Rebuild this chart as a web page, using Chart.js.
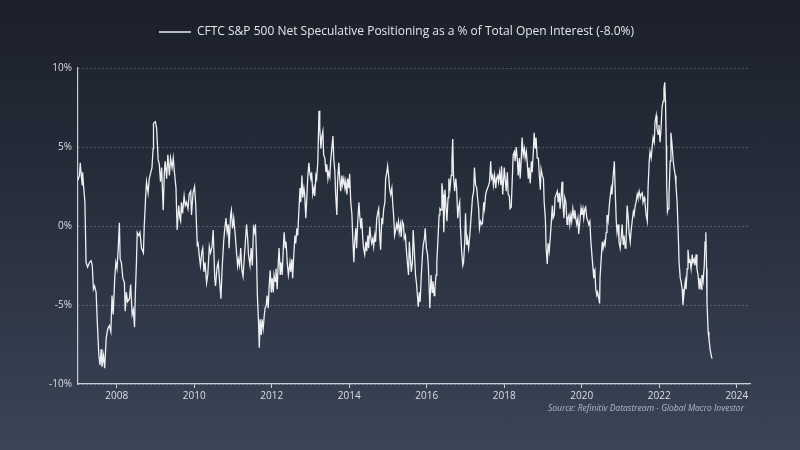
<!DOCTYPE html>
<html>
<head>
<meta charset="utf-8">
<script src="https://cdn.jsdelivr.net/npm/chart.js@4.4.0/dist/chart.umd.min.js"></script>
<style>
  html, body { margin: 0; padding: 0; }
  #wrap {
    position: relative;
    width: 800px; height: 450px;
    background: linear-gradient(to bottom, #1b202a 0%, #272e3c 45%, #3b4557 100%);
  }
  #source {
    position: absolute; right: 56px; top: 402px;
    font: italic 8.5px "Open Sans", sans-serif;
    color: #b4b9c4;
  }
</style>
</head>
<body>
<div id="wrap">
  <canvas id="chart" width="800" height="450"></canvas>
  <div id="source">Source: Refinitiv Datastream - Global Macro Investor</div>
</div>
<script>
// weekly-ish readings, decimal year
let dates = [
  2007.00,2007.04,2007.06,2007.09,2007.11,2007.12,2007.15,2007.18,2007.21,2007.25,2007.30,2007.34,2007.37,2007.40,2007.43,2007.47,2007.50,2007.54,2007.57,2007.60,
  2007.62,2007.66,2007.69,2007.73,2007.77,2007.81,2007.85,2007.88,2007.91,2007.95,2007.98,2008.01,2008.04,2008.07,2008.09,2008.12,2008.16,2008.20,2008.22,2008.25,
  2008.28,2008.33,2008.36,2008.40,2008.43,2008.46,2008.48,2008.51,2008.53,2008.57,2008.60,2008.64,2008.69,2008.71,2008.75,2008.77,2008.81,2008.84,2008.88,2008.91,
  2008.94,2008.95,2009.00,2009.03,2009.07,2009.10,2009.13,2009.16,2009.20,2009.23,2009.25,2009.29,2009.32,2009.36,2009.39,2009.43,2009.46,2009.49,2009.53,2009.56,
  2009.60,2009.63,
  2009.65,2009.67,2009.70,2009.74,2009.77,2009.80,2009.84,2009.87,2009.91,2009.93,2009.97,2010.01,2010.04,2010.08,2010.10,2010.14,2010.16,2010.20,2010.22,2010.25,
  2010.28,2010.32,2010.35,2010.39,2010.42,2010.46,2010.49,2010.53,2010.55,2010.59,2010.62,2010.65,2010.69,2010.72,2010.76,2010.78,2010.82,2010.85,2010.88,2010.90,
  2010.94,2010.96,2010.99,2011.02,2011.06,2011.09,2011.12,2011.14,2011.17,2011.20,2011.23,2011.26,2011.29,2011.32,2011.35,2011.38,2011.40,2011.44,2011.47,2011.50,
  2011.53,2011.56,2011.58,2011.61,2011.63,2011.66,2011.68,2011.70,2011.73,2011.75,2011.78,2011.81,2011.83,2011.86,2011.88,2011.91,2011.93,2011.96,2011.99,2012.01,
  2012.04,2012.06,2012.09,2012.11,2012.14,2012.17,2012.19,2012.22,2012.24,2012.27,2012.30,2012.32,2012.35,2012.37,2012.40,2012.43,
  2012.47,2012.49,2012.52,2012.54,2012.57,2012.60,2012.62,2012.65,2012.67,2012.70,2012.73,2012.75,2012.78,2012.80,2012.83,2012.85,2012.88,2012.91,2012.93,2012.96,
  2012.98,2013.01,2013.03,2013.06,2013.09,2013.11,2013.14,2013.16,2013.19,2013.22,2013.24,2013.27,2013.29,2013.32,2013.34,2013.37,2013.40,2013.42,2013.45,2013.47,
  2013.50,2013.52,2013.55,2013.58,2013.60,2013.63,2013.65,2013.68,2013.70,2013.73,2013.76,2013.78,2013.81,2013.83,2013.86,2013.89,2013.91,2013.94,2013.96,2013.99,
  2014.01,2014.04,2014.07,2014.09,2014.12,2014.14,2014.17,2014.19,2014.22,2014.25,2014.27,2014.30,2014.32,2014.35,2014.37,2014.40,2014.43,2014.45,2014.48,2014.50,
  2014.53,2014.55,2014.58,2014.61,2014.63,2014.66,2014.68,2014.71,2014.74,2014.76,2014.79,2014.81,2014.84,2014.86,2014.89,2014.92,2014.94,2014.97,2014.99,2015.02,
  2015.04,2015.07,2015.10,2015.12,2015.15,2015.17,2015.20,
  2015.22,2015.24,2015.27,2015.29,2015.32,2015.34,2015.37,2015.40,2015.42,2015.45,2015.47,2015.50,2015.53,2015.55,2015.58,2015.60,2015.63,2015.65,2015.68,2015.71,
  2015.73,2015.76,2015.78,2015.81,2015.83,2015.86,2015.89,2015.91,2015.94,2015.96,2015.99,2016.02,2016.04,2016.07,2016.08,2016.11,2016.14,2016.16,2016.19,2016.21,
  2016.24,2016.26,2016.29,2016.32,2016.34,2016.37,2016.39,2016.42,2016.44,2016.47,2016.50,2016.52,2016.55,2016.57,2016.60,2016.63,2016.65,2016.67,2016.69,2016.72,
  2016.75,2016.77,2016.80,2016.82,2016.85,2016.87,2016.90,2016.93,2016.95,2016.98,2017.00,2017.03,2017.05,2017.08,2017.11,2017.13,2017.16,2017.18,2017.21,2017.23,
  2017.26,2017.29,2017.31,2017.34,2017.36,2017.39,2017.42,2017.44,2017.47,2017.49,2017.52,2017.54,2017.57,2017.60,2017.62,2017.65,2017.67,2017.70,2017.72,2017.75,
  2017.78,2017.80,2017.83,2017.85,2017.88,2017.91,2017.93,2017.96,2017.98,
  2018.00,2018.03,2018.05,2018.08,2018.10,2018.13,2018.15,2018.18,2018.21,2018.23,2018.26,2018.28,2018.31,2018.34,2018.36,2018.39,2018.41,2018.44,2018.46,2018.49,
  2018.52,2018.54,2018.57,2018.59,2018.62,2018.64,2018.67,2018.70,2018.72,2018.75,2018.77,2018.80,2018.82,2018.85,2018.88,2018.90,2018.93,2018.95,2018.98,2019.01,
  2019.03,2019.06,2019.08,2019.11,2019.13,2019.16,2019.19,2019.21,2019.24,2019.26,2019.29,2019.31,2019.34,2019.37,2019.39,2019.42,2019.44,2019.47,2019.49,2019.51,
  2019.54,2019.56,2019.59,2019.62,2019.64,2019.67,2019.69,2019.72,2019.74,2019.77,2019.80,2019.82,2019.85,2019.87,2019.90,2019.92,2019.95,2019.98,2020.00,2020.03,
  2020.05,2020.08,2020.10,2020.13,2020.16,2020.18,2020.21,2020.23,2020.26,2020.29,2020.31,2020.34,2020.36,2020.39,2020.41,2020.44,2020.46,2020.47,2020.50,2020.53,
  2020.55,2020.58,2020.60,2020.63,2020.65,2020.68,2020.71,2020.73,2020.76,2020.78,
  2020.81,2020.84,2020.86,2020.89,2020.91,2020.94,2020.96,2020.99,2021.02,2021.04,2021.07,2021.09,2021.12,2021.14,2021.17,2021.20,2021.22,2021.25,2021.27,2021.30,
  2021.33,2021.35,2021.38,2021.40,2021.43,2021.45,2021.48,2021.51,2021.53,2021.56,2021.58,2021.61,2021.63,2021.66,2021.69,2021.71,2021.74,2021.76,2021.79,2021.82,
  2021.84,2021.87,2021.89,2021.92,2021.94,2021.97,2021.99,2022.02,2022.05,2022.07,2022.10,2022.12,2022.14,2022.16,2022.18,2022.19,2022.21,2022.23,2022.25,2022.28,
  2022.30,2022.33,2022.36,2022.38,2022.41,2022.43,2022.46,2022.49,2022.51,2022.54,2022.56,2022.59,2022.61,2022.64,2022.67,2022.69,2022.72,2022.74,2022.77,2022.79,
  2022.82,2022.85,2022.87,2022.90,2022.92,2022.95,2022.97,2023.00,2023.03,2023.05,2023.08,2023.10,2023.13,2023.16,2023.18,2023.20,2023.22,2023.23,2023.26,2023.28,
  2023.31,2023.34,2023.36
];

// net speculative positioning, % of open interest
let values = [
  2.9,3.2,4.0,3.1,2.6,3.4,2.4,1.5,-2.3,-2.6,-2.3,-2.2,-2.5,-4.0,-3.8,-4.2,-6.1,-8.2,-8.8,-7.8,
  -8.9,-8.2,-9.0,-7.1,-6.5,-6.3,-6.7,-4.4,-5.6,-3.3,-2.3,-2.7,-1.4,0.2,-2.1,-2.3,-3.3,-3.6,-5.4,-4.2,
  -4.8,-4.6,-3.7,-5.6,-5.3,-6.4,-4.4,-2.3,-0.4,-0.6,-0.4,-1.4,-1.7,-0.1,2.0,2.8,2.1,3.0,3.4,3.7,
  4.9,6.5,6.6,6.2,4.2,3.9,2.8,3.7,1.0,3.4,4.1,3.0,4.5,3.2,4.3,3.7,4.3,3.4,2.4,-0.25,
  1.3,0.5,
  0.3,1.5,0.8,1.9,1.3,1.5,1.1,2.0,2.2,0.7,2.1,2.5,1.3,-1.2,-1.1,-2.1,-2.5,-1.6,-1.4,-2.9,
  -2.3,-3.6,-3.1,-1.3,-1.7,-1.3,-0.25,-3.3,-3.8,-2.6,-2.3,-3.3,-4.6,-2.7,-1.0,-0.4,0.5,-0.4,0.1,-1.4,
  0.7,1.0,-0.15,0.5,-0.6,-1.6,-2.5,-2.1,-2.5,-1.4,-2.8,-3.2,-2.1,-1.0,0.1,-0.8,-1.8,-2.5,-1.4,-2.5,
  -0.1,-0.4,0.1,-2.1,-4.4,-6.1,-7.7,-5.9,-6.9,-5.9,-6.5,-5.6,-5.2,-5.0,-4.4,-5.2,-4.0,-2.8,-4.2,-3.3,
  -4.2,-3.1,-3.5,-2.7,-4.0,-2.3,-1.4,-3.1,-2.3,-3.1,-1.4,-0.4,-1.4,-1.0,-2.3,-3.1,
  -2.3,-2.9,-2.1,-3.3,-1.8,-0.6,-1.1,-0.15,-0.6,0.9,2.4,1.5,3.2,1.8,2.4,2.0,0.5,2.0,3.1,4.0,
  3.4,3.0,3.4,2.0,2.4,1.9,3.2,3.0,4.1,7.3,6.2,4.9,5.6,6.0,4.5,4.3,3.4,3.9,3.0,3.4,
  3.1,4.1,4.9,5.7,4.3,3.4,2.0,0.7,2.8,4.0,2.8,2.2,3.2,2.6,3.0,2.4,2.8,2.0,3.0,2.4,
  3.3,1.5,0.7,-0.7,-2.3,-1.0,-0.15,-1.4,0.3,1.5,0.7,-0.15,0.5,-0.8,-1.4,-1.8,-1.0,-1.6,-0.6,-1.4,
  -0.05,-0.6,-1.1,-0.8,-1.3,-0.6,-1.0,0.5,0.9,1.1,-0.8,-1.5,0.5,0.1,1.1,1.5,3.0,3.4,3.8,3.1,
  2.4,2.0,2.4,1.5,0.5,-0.6,-0.25,
  0.1,-0.15,0.3,-0.4,0.1,-0.7,0.3,0.1,-0.8,-0.6,-1.4,-2.3,-3.1,-1.0,-2.1,-2.9,-2.3,-0.25,-1.6,-3.1,
  -3.5,-4.4,-5.1,-4.2,-4.8,-3.1,-1.8,-1.2,-0.8,-0.15,-1.4,-1.8,-2.5,-4.4,-5.2,-3.1,-4.2,-3.5,-4.4,-4.0,
  -3.1,-2.3,-0.8,0.7,1.1,1.0,2.7,2.0,-0.4,2.3,1.1,0.3,1.8,3.0,2.4,3.2,4.1,5.5,3.2,2.2,
  3.0,2.4,0.5,1.1,1.5,-0.15,-1.6,-2.5,-2.3,-1.0,0.8,-1.2,-0.8,-1.4,-0.6,0.1,1.1,1.8,2.2,3.7,
  2.6,2.4,1.8,1.1,-0.15,0.3,0.1,0.2,1.5,1.1,2.0,2.2,2.4,2.6,2.8,4.1,3.0,3.2,2.6,3.2,
  2.4,3.0,3.2,2.8,3.4,2.6,3.8,2.0,2.8,
  3.7,2.8,2.2,3.4,2.0,1.9,1.1,1.2,3.2,4.5,4.7,4.1,5.0,4.1,3.2,4.3,3.0,4.3,5.6,4.5,
  4.9,4.3,4.7,4.1,3.0,3.7,2.7,4.1,3.4,4.7,5.9,4.9,5.6,4.3,4.3,3.4,2.3,3.6,3.2,3.0,
  1.5,0.5,-1.4,-2.4,-1.1,-1.6,-0.6,0.1,1.3,0.5,0.7,1.8,2.0,2.2,1.5,2.1,1.1,2.0,2.8,1.5,
  0.5,1.8,1.5,0.1,0.5,0.7,0.1,0.7,0.3,1.1,0.5,1.0,0.4,0.1,0.5,-0.5,0.3,1.1,0.7,1.1,
  0.5,1.1,1.2,0.5,0.3,0.1,0.3,-0.8,-1.8,-2.7,-3.3,-2.9,-4.0,-4.4,-4.2,-4.6,-4.9,-3.3,-2.1,-1.0,
  -1.4,-1.0,-1.2,-0.4,0.7,0.3,1.3,1.8,2.4,2.0,
  3.2,4.1,2.4,0.3,-0.4,0.1,-1.0,-1.4,-0.6,0.1,-1.2,-0.6,-1.4,-1.2,1.3,0.5,-0.4,-1.0,-0.4,0.3,
  0.9,0.7,1.3,1.5,2.0,1.8,2.2,1.8,2.0,2.1,1.5,1.8,1.5,0.7,0.3,2.4,4.1,4.7,4.3,5.1,
  5.6,5.3,6.6,7.0,6.2,5.8,6.4,5.3,6.4,7.5,7.9,8.7,9.1,7.9,5.1,2.6,0.9,1.1,2.0,4.1,
  5.9,5.1,4.1,3.7,3.2,2.6,1.5,-0.6,-2.3,-3.3,-3.5,-4.0,-5.0,-4.2,-3.5,-4.0,-2.7,-1.5,-2.3,-2.1,
  -2.7,-1.8,-2.3,-2.1,-2.5,-1.8,-2.7,-3.1,-4.0,-3.3,-4.0,-3.1,-3.5,-2.5,-1.0,-0.4,-2.7,-4.8,-6.7,-7.1,
  -7.8,-8.2,-8.4
];

let yearTicks = [2008, 2010, 2012, 2014, 2016, 2018, 2020, 2022, 2024];
let yTicks = [-10, -5, 0, 5, 10];
let seriesName = 'CFTC S&P 500 Net Speculative Positioning as a % of Total Open Interest (-8.0%)';

let points = [];
for (let i = 0; i < dates.length; i++) {
    points.push({ x: dates[i], y: values[i] });
}

// push the plot area down below the legend
let legendGap = {
    id: 'legendGap',
    beforeInit(chart) {
        let fit = chart.legend.fit;
        chart.legend.fit = function() {
            fit.bind(chart.legend)();
            this.height += 20;
        };
    }
};

let ctx = document.querySelector('#chart').getContext('2d');
let myChart = new Chart(ctx, {
    type: 'line',
    data: {
        datasets: [{
            label: seriesName,
            data: points,
            borderColor: '#eeeff1',
            backgroundColor: '#eeeff1',
            borderWidth: 1.3,
            pointRadius: 0,
            tension: 0
        }]
    },
    options: {
        responsive: false,
        animation: false,
        layout: { padding: { left: 43, right: 50, top: 20, bottom: 46 } },
        plugins: {
            legend: {
                display: true,
                position: 'top',
                labels: {
                    color: '#e4e6ea',
                    font: { family: 'Open Sans', size: 12 },
                    usePointStyle: true,
                    pointStyle: 'line',
                    pointStyleWidth: 32,
                    boxHeight: 6,
                    padding: 6
                }
            },
            tooltip: { enabled: false }
        },
        scales: {
            x: {
                type: 'linear',
                min: 2007.0,
                max: 2024.34,
                afterBuildTicks: function(axis) {
                    axis.ticks = yearTicks.map(v => ({ value: v }));
                },
                ticks: {
                    color: '#dcdfe4',
                    font: { family: 'Open Sans', size: 10 },
                    maxRotation: 0,
                    padding: 2,
                    callback: v => String(v)
                },
                grid: {
                    drawOnChartArea: false,
                    drawTicks: true,
                    tickLength: 4,
                    tickColor: '#c9ced6'
                },
                border: { display: true, color: '#c9ced6', width: 1.2 }
            },
            y: {
                min: -10,
                max: 10,
                afterBuildTicks: function(axis) {
                    axis.ticks = yTicks.map(v => ({ value: v }));
                },
                ticks: {
                    color: '#dcdfe4',
                    font: { family: 'Open Sans', size: 10 },
                    padding: 6,
                    callback: v => v + '%'
                },
                grid: {
                    color: 'rgba(200,206,216,0.3)',
                    lineWidth: 1,
                    drawTicks: false
                },
                border: { display: true, color: '#c9ced6', width: 1.2, dash: [2, 2] }
            }
        }
    },
    plugins: [legendGap]
});
</script>
</body>
</html>
